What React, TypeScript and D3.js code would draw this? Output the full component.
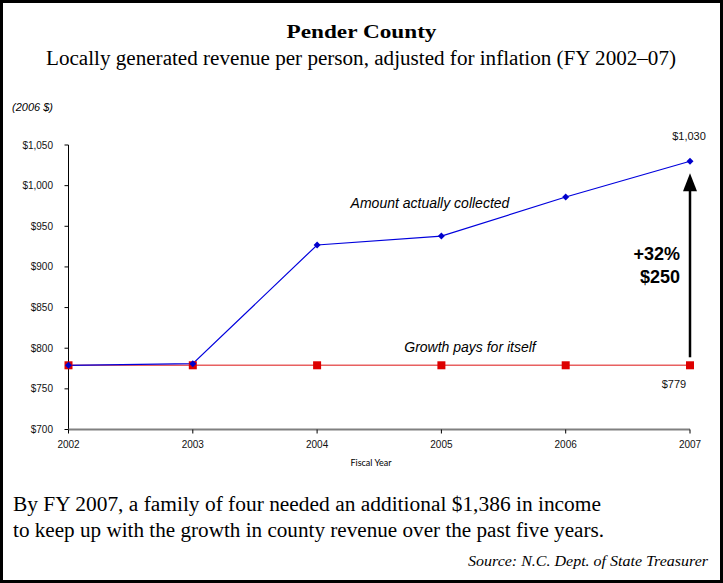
import React from "react";
import * as d3 from "d3";

const years = [2002, 2003, 2004, 2005, 2006, 2007];
const collected = [779, 781, 927, 938, 986, 1030];
const growthPays = [779, 779, 779, 779, 779, 779];
const yTicks = [700, 750, 800, 850, 900, 950, 1000, 1050];

const W = 723;
const H = 583;

export default function App() {
  const x = d3.scaleLinear().domain([2002, 2007]).range([68.5, 690]);
  const y = d3.scaleLinear().domain([700, 1050]).range([429.5, 145]);
  const fmt = (v: number) => "$" + d3.format(",")(v);
  const line = d3
    .line<number>()
    .x((_, i) => x(years[i]))
    .y((d) => y(d));

  const serif = "'Liberation Serif', 'Times New Roman', serif";
  const sans = "'Liberation Sans', Arial, sans-serif";

  const arrowBottom = y(growthPays[5]) - 8;
  const arrowTop = y(collected[5]) + 12;

  return (
    <svg
      width={W}
      height={H}
      style={{ position: "absolute", left: 0, top: 0, background: "#fff" }}
    >
      <rect x={1.5} y={1.5} width={W - 3} height={H - 3} fill="#fff" stroke="#000" strokeWidth={3} />
      <text x={361.5} y={38} textAnchor="middle" fontFamily={serif} fontWeight="bold" fontSize={19}
        textLength={150} lengthAdjust="spacingAndGlyphs">
        Pender County
      </text>
      <text x={361} y={65} textAnchor="middle" fontFamily={serif} fontSize={20.5}
        textLength={630} lengthAdjust="spacingAndGlyphs">
        Locally generated revenue per person, adjusted for inflation (FY 2002–07)
      </text>
      <text x={12} y={111} fontFamily={sans} fontStyle="italic" fontSize={11}>
        (2006 $)
      </text>

      {/* y axis */}
      <line x1={x(2002)} x2={x(2002)} y1={y(1050)} y2={y(700)} stroke="#000" strokeWidth={1} />
      {yTicks.map((t) => (
        <g key={t}>
          <line x1={x(2002) - 4} x2={x(2002)} y1={y(t)} y2={y(t)} stroke="#000" />
          <text x={53} y={y(t) + 3.5} textAnchor="end" fontFamily={sans} fontSize={10} fill="#111">
            {fmt(t)}
          </text>
        </g>
      ))}

      {/* x axis */}
      <line x1={x(2002)} x2={x(2007)} y1={y(700)} y2={y(700)} stroke="#808080" strokeWidth={2} />
      {years.map((yr) => (
        <g key={yr}>
          <line x1={x(yr)} x2={x(yr)} y1={y(700)} y2={y(700) + 4} stroke="#000" />
          <text x={x(yr)} y={448} textAnchor="middle" fontFamily={sans} fontSize={10} fill="#111">
            {yr}
          </text>
        </g>
      ))}
      <text x={371} y={466} textAnchor="middle" fontFamily="Lato, sans-serif" fontSize={9}>
        Fiscal Year
      </text>

      {/* red line */}
      <path d={line(growthPays) || ""} fill="none" stroke="#e86060" strokeWidth={1.6} />
      {/* blue line */}
      <path d={line(collected) || ""} fill="none" stroke="#0000dd" strokeWidth={1.2} />
      {growthPays.map((v, i) => (
        <rect key={i} x={x(years[i]) - 4} y={y(v) - 4} width={8} height={8} fill="#dd0000" />
      ))}
      {collected.map((v, i) => (
        <path
          key={i}
          d={`M${x(years[i])},${y(v) - 3.5}L${x(years[i]) + 3.5},${y(v)}L${x(years[i])},${y(v) + 3.5}L${x(years[i]) - 3.5},${y(v)}Z`}
          fill="#0000cc"
        />
      ))}

      <text x={430} y={208} textAnchor="middle" fontFamily={sans} fontStyle="italic" fontSize={14}>
        Amount actually collected
      </text>
      <text x={470} y={352} textAnchor="middle" fontFamily={sans} fontStyle="italic" fontSize={14}>
        Growth pays for itself
      </text>

      <text x={689} y={140} textAnchor="middle" fontFamily={sans} fontSize={11} fill="#111">
        {fmt(collected[5])}
      </text>
      <text x={674} y={388} textAnchor="middle" fontFamily={sans} fontSize={11} fill="#111">
        {fmt(growthPays[5])}
      </text>

      {/* arrow */}
      <line x1={x(2007)} x2={x(2007)} y1={arrowBottom} y2={arrowTop + 14} stroke="#000" strokeWidth={2.5} />
      <path
        d={`M${x(2007)},${arrowTop}L${x(2007) + 7},${arrowTop + 18}L${x(2007) - 7},${arrowTop + 18}Z`}
        fill="#000"
      />
      <text x={680} y={260} textAnchor="end" fontFamily={sans} fontWeight="bold" fontSize={18}>
        +32%
      </text>
      <text x={680} y={283} textAnchor="end" fontFamily={sans} fontWeight="bold" fontSize={18}>
        $250
      </text>

      <text x={13} y={511} fontFamily={serif} fontSize={20.5} textLength={588} lengthAdjust="spacingAndGlyphs">
        By FY 2007, a family of four needed an additional $1,386 in income
      </text>
      <text x={13} y={537} fontFamily={serif} fontSize={20.5} textLength={591} lengthAdjust="spacingAndGlyphs">
        to keep up with the growth in county revenue over the past five years.
      </text>
      <text x={708} y={566} textAnchor="end" fontFamily={serif} fontStyle="italic" fontSize={15}
        textLength={240} lengthAdjust="spacingAndGlyphs">
        Source: N.C. Dept. of State Treasurer
      </text>
    </svg>
  );
}
